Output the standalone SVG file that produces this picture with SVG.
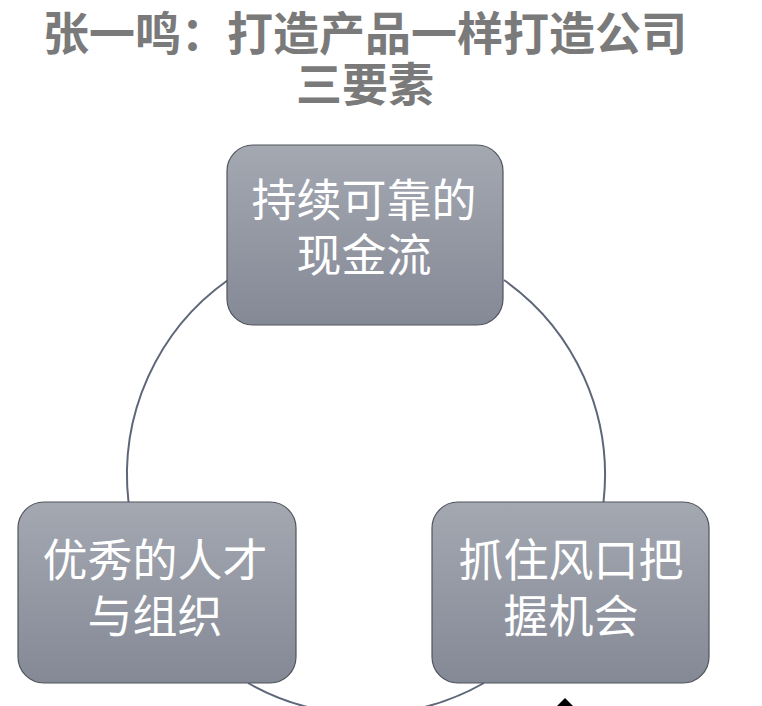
<svg xmlns="http://www.w3.org/2000/svg" width="762" height="706" viewBox="0 0 762 706">
  <defs>
    <linearGradient id="g" x1="0" y1="0" x2="0" y2="1">
      <stop offset="0" stop-color="#a4a8b1"/>
      <stop offset="1" stop-color="#848996"/>
    </linearGradient>
    <style>
      .title { font-family: "Liberation Sans", "Noto Sans CJK SC", sans-serif; font-size: 46px; font-weight: bold; fill: #7a7a7a; text-anchor: middle; }
      .box { fill: url(#g); stroke: #50545c; stroke-width: 1.2; }
      .lbl { font-family: "Noto Sans CJK SC", sans-serif; font-size: 45px; fill: #ffffff; text-anchor: middle; }
      .conn { fill: none; stroke: #5e6679; stroke-width: 2; }
    </style>
  </defs>
  <rect width="762" height="706" fill="#ffffff"/>
  <g id="title">
    <text class="title" x="365" y="50">张一鸣：打造产品一样打造公司</text>
    <text class="title" x="365" y="101">三要素</text>
  </g>
  <g id="connectors">
    <path class="conn" d="M228,280 A239,239 0 0 0 128.5,502"/>
    <path class="conn" d="M504,280 A239,239 0 0 1 603.5,502"/>
    <path class="conn" d="M248,683 A239,239 0 0 0 484,683"/>
  </g>
  <g id="node-top">
    <rect class="box" x="227" y="145" width="276" height="180" rx="26"/>
    <text class="lbl" x="364" y="217">持续可靠的</text>
    <text class="lbl" x="364" y="272">现金流</text>
  </g>
  <g id="node-left">
    <rect class="box" x="18" y="502" width="278" height="181" rx="26"/>
    <text class="lbl" x="155" y="577">优秀的人才</text>
    <text class="lbl" x="155" y="633">与组织</text>
  </g>
  <g id="node-right">
    <rect class="box" x="432" y="502" width="277" height="181" rx="26"/>
    <text class="lbl" x="571" y="577">抓住风口把</text>
    <text class="lbl" x="571" y="633">握机会</text>
  </g>
  <polygon points="565,698 579,712 565,726 551,712" fill="#000000"/>
</svg>
